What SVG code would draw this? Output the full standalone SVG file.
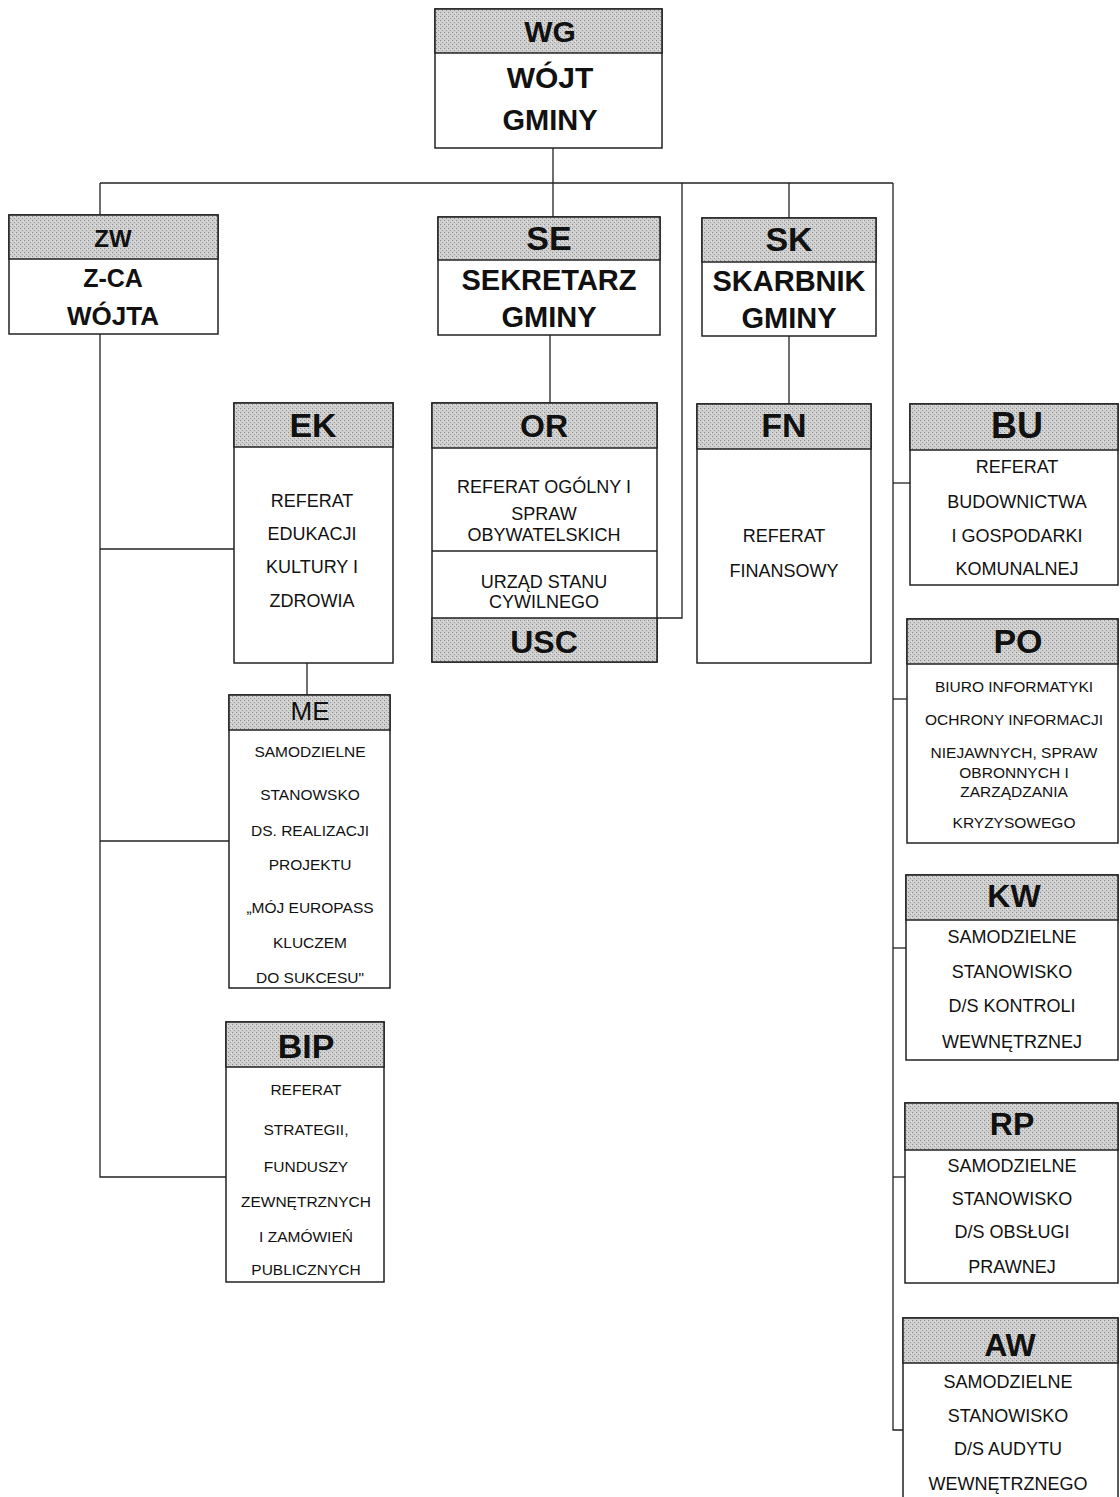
<svg xmlns="http://www.w3.org/2000/svg" width="1120" height="1497" viewBox="0 0 1120 1497">
<defs>
<pattern id="dots" width="4" height="4" patternUnits="userSpaceOnUse">
<rect width="4" height="4" fill="#cfcfcf"/>
<rect x="0" y="0" width="1" height="1" fill="#8a8a8a"/>
<rect x="2" y="2" width="1" height="1" fill="#9a9a9a"/>
<rect x="3" y="1" width="1" height="1" fill="#e6e6e6"/>
</pattern>
</defs>
<style>
.box{fill:#fff;stroke:#222;stroke-width:1.5}
.hd{fill:url(#dots);stroke:#222;stroke-width:1.5}
.sep{stroke:#222;stroke-width:1.5}
.cn{fill:none;stroke:#222;stroke-width:1.3}
text{font-family:"Liberation Sans",Arial,sans-serif;fill:#111;text-anchor:middle}
.h{font-weight:bold}
.t{font-size:18px}
.s{font-size:15.5px}
</style>
<rect width="1120" height="1497" fill="#fff"/>
<g id="connectors">
<path class="cn" d="M553 148V183"/>
<path class="cn" d="M100 183H893"/>
<path class="cn" d="M100 183V215"/>
<path class="cn" d="M553 183V217"/>
<path class="cn" d="M789 183V218"/>
<path class="cn" d="M682 183V618H657"/>
<path class="cn" d="M893 183V1430H903"/>
<path class="cn" d="M893 483H910"/>
<path class="cn" d="M893 699H907"/>
<path class="cn" d="M893 948H906"/>
<path class="cn" d="M893 1177H905"/>
<path class="cn" d="M100 334V1177H226"/>
<path class="cn" d="M100 549H234"/>
<path class="cn" d="M100 841H229"/>
<path class="cn" d="M307 663V695"/>
<path class="cn" d="M550 335V403"/>
<path class="cn" d="M789 336V404"/>
</g>
<g id="WG">
<rect class="box" x="435" y="9" width="227" height="139"/>
<rect class="hd" x="435" y="9" width="227" height="44"/>
<text class="h" x="550" y="42" font-size="30">WG</text>
<text class="h" x="550" y="88" font-size="30">WÓJT</text>
<text class="h" x="550" y="130" font-size="29">GMINY</text>
</g>
<g id="ZW">
<rect class="box" x="9" y="215" width="209" height="119"/>
<rect class="hd" x="9" y="215" width="209" height="44"/>
<text class="h" x="113" y="247" font-size="24">ZW</text>
<text class="h" x="113" y="287" font-size="25">Z-CA</text>
<text class="h" x="113" y="325" font-size="26">WÓJTA</text>
</g>
<g id="SE">
<rect class="box" x="438" y="217" width="222" height="118"/>
<rect class="hd" x="438" y="217" width="222" height="43"/>
<text class="h" x="549" y="250" font-size="34">SE</text>
<text class="h" x="549" y="290" font-size="29">SEKRETARZ</text>
<text class="h" x="549" y="327" font-size="29">GMINY</text>
</g>
<g id="SK">
<rect class="box" x="702" y="218" width="174" height="118"/>
<rect class="hd" x="702" y="218" width="174" height="44"/>
<text class="h" x="789" y="251" font-size="34">SK</text>
<text class="h" x="789" y="291" font-size="29">SKARBNIK</text>
<text class="h" x="789" y="328" font-size="29">GMINY</text>
</g>
<g id="EK">
<rect class="box" x="234" y="403" width="159" height="260"/>
<rect class="hd" x="234" y="403" width="159" height="44"/>
<text class="h" x="313" y="437" font-size="34">EK</text>
<text class="t" x="312" y="507">REFERAT</text>
<text class="t" x="312" y="540">EDUKACJI</text>
<text class="t" x="312" y="573">KULTURY I</text>
<text class="t" x="312" y="607">ZDROWIA</text>
</g>
<g id="OR">
<rect class="box" x="432" y="403" width="225" height="259"/>
<rect class="hd" x="432" y="403" width="225" height="45"/>
<line class="sep" x1="432" y1="551" x2="657" y2="551"/>
<rect class="hd" x="432" y="618" width="225" height="44"/>
<text class="h" x="544" y="437" font-size="32">OR</text>
<text class="t" x="544" y="493" font-size="17">REFERAT OGÓLNY I</text>
<text class="t" x="544" y="520" font-size="17">SPRAW</text>
<text class="t" x="544" y="541" font-size="17">OBYWATELSKICH</text>
<text class="t" x="544" y="588" font-size="17">URZĄD STANU</text>
<text class="t" x="544" y="608" font-size="17">CYWILNEGO</text>
<text class="h" x="544" y="653" font-size="32">USC</text>
</g>
<g id="FN">
<rect class="box" x="697" y="404" width="174" height="259"/>
<rect class="hd" x="697" y="404" width="174" height="45"/>
<text class="h" x="784" y="437" font-size="34">FN</text>
<text class="t" x="784" y="542">REFERAT</text>
<text class="t" x="784" y="577">FINANSOWY</text>
</g>
<g id="BU">
<rect class="box" x="910" y="404" width="208" height="181"/>
<rect class="hd" x="910" y="404" width="208" height="46"/>
<text class="h" x="1017" y="438" font-size="36">BU</text>
<text class="t" x="1017" y="473">REFERAT</text>
<text class="t" x="1017" y="508">BUDOWNICTWA</text>
<text class="t" x="1017" y="542">I GOSPODARKI</text>
<text class="t" x="1017" y="575">KOMUNALNEJ</text>
</g>
<g id="ME">
<rect class="box" x="229" y="695" width="161" height="293"/>
<rect class="hd" x="229" y="695" width="161" height="35"/>
<text x="310" y="720" font-size="26">ME</text>
<text class="s" x="310" y="757">SAMODZIELNE</text>
<text class="s" x="310" y="800">STANOWSKO</text>
<text class="s" x="310" y="836">DS. REALIZACJI</text>
<text class="s" x="310" y="870">PROJEKTU</text>
<text class="s" x="310" y="913">„MÓJ EUROPASS</text>
<text class="s" x="310" y="948">KLUCZEM</text>
<text class="s" x="310" y="983">DO SUKCESU"</text>
</g>
<g id="PO">
<rect class="box" x="907" y="619" width="211" height="224"/>
<rect class="hd" x="907" y="619" width="211" height="45"/>
<text class="h" x="1018" y="653" font-size="34">PO</text>
<text class="s" x="1014" y="692">BIURO INFORMATYKI</text>
<text class="s" x="1014" y="725">OCHRONY INFORMACJI</text>
<text class="s" x="1014" y="758">NIEJAWNYCH, SPRAW</text>
<text class="s" x="1014" y="778">OBRONNYCH I</text>
<text class="s" x="1014" y="797">ZARZĄDZANIA</text>
<text class="s" x="1014" y="828">KRYZYSOWEGO</text>
</g>
<g id="KW">
<rect class="box" x="906" y="875" width="212" height="185"/>
<rect class="hd" x="906" y="875" width="212" height="45"/>
<text class="h" x="1014" y="907" font-size="32">KW</text>
<text class="t" x="1012" y="943" font-size="17">SAMODZIELNE</text>
<text class="t" x="1012" y="978" font-size="17">STANOWISKO</text>
<text class="t" x="1012" y="1012" font-size="17">D/S KONTROLI</text>
<text class="t" x="1012" y="1048" font-size="17">WEWNĘTRZNEJ</text>
</g>
<g id="RP">
<rect class="box" x="905" y="1103" width="213" height="180"/>
<rect class="hd" x="905" y="1103" width="213" height="47"/>
<text class="h" x="1012" y="1135" font-size="32">RP</text>
<text class="t" x="1012" y="1172" font-size="17">SAMODZIELNE</text>
<text class="t" x="1012" y="1205" font-size="17">STANOWISKO</text>
<text class="t" x="1012" y="1238" font-size="17">D/S OBSŁUGI</text>
<text class="t" x="1012" y="1273" font-size="17">PRAWNEJ</text>
</g>
<g id="AW">
<rect class="box" x="903" y="1318" width="215" height="190"/>
<rect class="hd" x="903" y="1318" width="215" height="45"/>
<text class="h" x="1010" y="1356" font-size="32">AW</text>
<text class="t" x="1008" y="1388" font-size="17">SAMODZIELNE</text>
<text class="t" x="1008" y="1422" font-size="17">STANOWISKO</text>
<text class="t" x="1008" y="1455" font-size="17">D/S AUDYTU</text>
<text class="t" x="1008" y="1490" font-size="17">WEWNĘTRZNEGO</text>
</g>
<g id="BIP">
<rect class="box" x="226" y="1022" width="158" height="260"/>
<rect class="hd" x="226" y="1022" width="158" height="45"/>
<text class="h" x="306" y="1058" font-size="34">BIP</text>
<text class="s" x="306" y="1095">REFERAT</text>
<text class="s" x="306" y="1135">STRATEGII,</text>
<text class="s" x="306" y="1172">FUNDUSZY</text>
<text class="s" x="306" y="1207">ZEWNĘTRZNYCH</text>
<text class="s" x="306" y="1242">I ZAMÓWIEŃ</text>
<text class="s" x="306" y="1275">PUBLICZNYCH</text>
</g>
</svg>
